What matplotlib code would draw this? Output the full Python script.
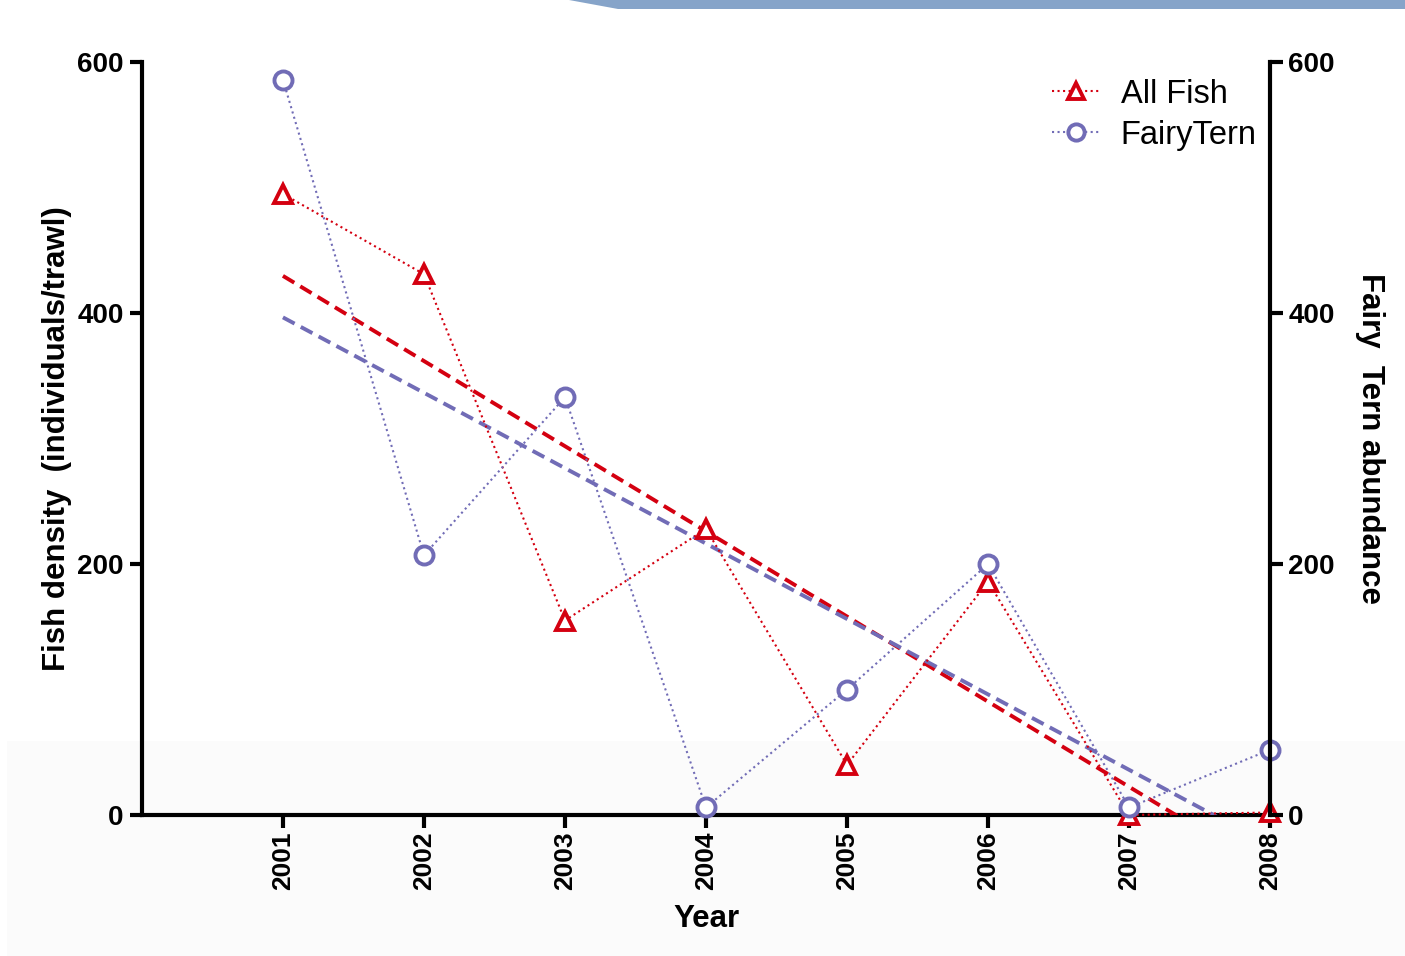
#!/usr/bin/env python3

import matplotlib
matplotlib.use('Agg')
import matplotlib.pyplot as plt
import numpy as np
from matplotlib.patches import Rectangle, Polygon

years = [2001, 2002, 2003, 2004, 2005, 2006, 2007, 2008]
all_fish = [495, 431, 155, 228, 40, 186, 0, 2]
fairy_tern = [586, 207, 333, 6, 100, 200, 6, 52]
y_ticks = [0, 200, 400, 600]

red = '#d40010'
blue = '#716cb6'

plt.rcParams['font.family'] = 'Liberation Sans'

fig = plt.figure(figsize=(14.05, 9.56), dpi=100)

# slide background pieces
fig.patches.append(Rectangle((0.005, 0.0), 0.995, 0.225, transform=fig.transFigure,
                             facecolor='#fbfbfb', edgecolor='none', zorder=-5))
fig.patches.append(Polygon([(0.405, 1.0), (1.0, 1.0), (1.0, 0.991), (0.44, 0.991)],
                           closed=True, transform=fig.transFigure,
                           facecolor='#86a4c9', edgecolor='none', zorder=-5))

ax = fig.add_axes([0.101, 0.1475, 0.803, 0.7875])
ax.patch.set_alpha(0)

x = np.array(years, dtype=float)
ax.plot(x, all_fish, linestyle=':', color=red, linewidth=1.5, marker='^', markersize=13.5,
        markerfacecolor='white', markeredgecolor=red, markeredgewidth=2.8, label='All Fish',
        clip_on=False, zorder=4)
ax.plot(x, fairy_tern, linestyle=':', color=blue, linewidth=1.5, marker='o', markersize=13,
        markerfacecolor='white', markeredgecolor=blue, markeredgewidth=2.8, label='FairyTern',
        clip_on=False, zorder=4)

# linear trend lines
for vals, col in [(all_fish, red), (fairy_tern, blue)]:
    k, b = np.polyfit(x, vals, 1)
    ax.plot(x, k * x + b, linestyle=(0, (3.4, 1.8)), color=col, linewidth=2.8, zorder=3)

ax.set_xlim(2000, 2008)
ax.set_ylim(0, 600)
ax.set_xticks(years)
ax.set_xticklabels([str(y) for y in years], rotation=90)
ax.set_yticks(y_ticks)

for s in ['left', 'bottom']:
    ax.spines[s].set_linewidth(3)
ax.spines['top'].set_visible(False)
ax.spines['right'].set_visible(False)
ax.tick_params(width=3, length=9, labelsize=20, direction='out', pad=4)
ax.tick_params(axis='x', labelsize=19, pad=3)
for lab in ax.get_xticklabels() + ax.get_yticklabels():
    lab.set_fontweight('bold')

ax2 = ax.twinx()
ax2.set_ylim(0, 600)
ax2.set_yticks(y_ticks)
ax2.spines['right'].set_linewidth(3)
ax2.spines['top'].set_visible(False)
ax2.spines['left'].set_visible(False)
ax2.spines['bottom'].set_visible(False)
ax2.tick_params(width=3, length=9, labelsize=20, direction='out', pad=4)
for lab in ax2.get_yticklabels():
    lab.set_fontweight('bold')

ax.set_xlabel('Year', fontsize=22.5, fontweight='bold', labelpad=10)
ax.set_ylabel('Fish density  (individuals/trawl)', fontsize=22.5, fontweight='bold', labelpad=4)
ax2.set_ylabel('Fairy  Tern abundance', fontsize=22.5, fontweight='bold', rotation=270,
               labelpad=36)

leg = ax.legend(loc='upper right', bbox_to_anchor=(1.014, 1.017), fontsize=23.5, frameon=False,
                handlelength=1.5, handletextpad=0.6, labelspacing=0.3, markerscale=0.9)

fig.savefig('out.png', dpi=100)
